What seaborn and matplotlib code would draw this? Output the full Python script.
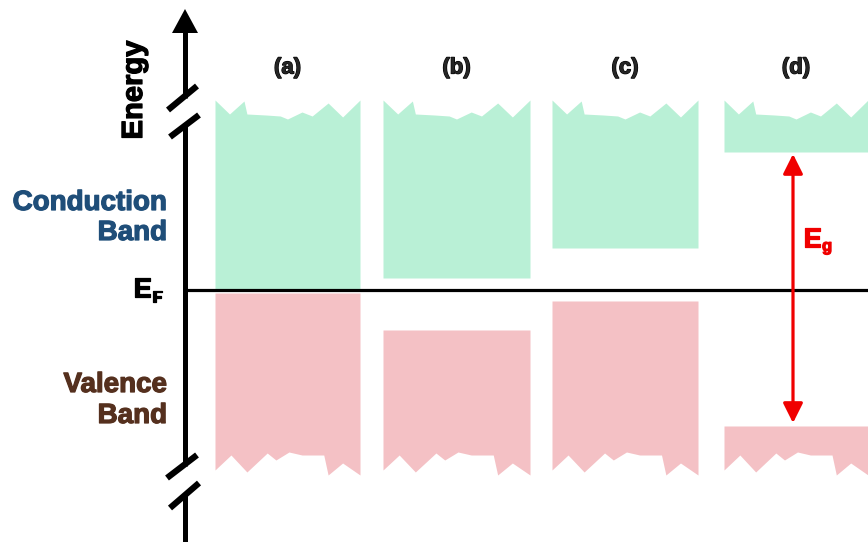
import numpy as np
import pandas as pd
import seaborn as sns
import matplotlib
matplotlib.use("Agg")
import matplotlib.pyplot as plt
import matplotlib.patheffects as pe

# ---- data (energies relative to the Fermi level, 1 unit = 1 px) ----
panels = ["(a)", "(b)", "(c)", "(d)"]
band_left = [215, 383, 552, 724]
band_right = [360, 530, 698, 868]
cb_bottom = [1, 12, 42, 138]      # conduction-band minimum
vb_top = [-3, -40, -11, -136]     # valence-band maximum
cb_top = 190                      # (broken) top of conduction band
vb_bottom = -185                  # (broken) bottom of valence band
fermi_level = 0
# hand-drawn jagged break edges (fraction of band width, depth in units)
top_jag_x = [0.0, 0.10, 0.20, 0.22, 0.35, 0.45, 0.50, 0.60, 0.67, 0.78, 0.88, 1.0]
top_jag_d = [0, 14, 1, 14, 15, 16, 19, 12, 16, 3, 17, 0]
bot_jag_x = [0.0, 0.11, 0.22, 0.36, 0.42, 0.51, 0.60, 0.75, 0.78, 0.88, 1.0]
bot_jag_d = [5, 20, 3, 22, 15, 23, 20, 20, 0, 12, 0]

sns.set_theme(style="white")
plt.rcParams["font.family"] = ["Liberation Sans", "DejaVu Sans"]
plt.rcParams["font.weight"] = "bold"

fig = plt.figure(figsize=(8.68, 5.42), dpi=100)
ax = fig.add_axes([0, 0, 1, 1])
ax.set_xlim(0, 868)
ax.set_ylim(-252, 290)
ax.axis("off")

def E(px):
    return 290 - px

def heavy(color):
    return [pe.withStroke(linewidth=0.9, foreground=color)]

cb_color = "#B9F0D6"
vb_color = "#F4C1C5"
for i in range(len(panels)):
    w = band_right[i] - band_left[i]
    xt = band_left[i] + np.array(top_jag_x) * w
    ax.fill_between(xt, cb_bottom[i], cb_top - np.array(top_jag_d),
                    color=cb_color, lw=0, zorder=1)
    xb = band_left[i] + np.array(bot_jag_x) * w
    ax.fill_between(xb, vb_bottom + np.array(bot_jag_d), vb_top[i],
                    color=vb_color, lw=0, zorder=1)
    ax.text((band_left[i] + band_right[i]) / 2, E(68), panels[i],
            ha="center", va="center", fontsize=16, fontweight="bold",
            path_effects=heavy("black"))

# Fermi level
fermi = pd.DataFrame({"x": [185, 868], "E": [fermi_level, fermi_level]})
sns.lineplot(data=fermi, x="x", y="E", color="black", lw=2.3, ax=ax, zorder=3)

# Energy axis with breaks
lw_ax = 3.6
for y0, y1 in [(30, 98), (126, 466), (495, 545)]:
    ax.plot([185, 185], [E(y0), E(y1)], color="black", lw=lw_ax,
            solid_capstyle="butt", zorder=4)
ax.fill([172, 198, 185], [E(33), E(33), E(9)], color="black", lw=0, zorder=4)
for (x0, y0, x1, y1) in [(168, 110, 197, 86), (170, 137, 199, 115),
                         (167, 478, 197, 455), (170, 508, 199, 483)]:
    ax.plot([x0, x1], [E(y0), E(y1)], color="black", lw=4.5,
            solid_capstyle="butt", zorder=4)

# Band gap arrow for (d)
red = "#F00000"
ax.annotate("", xy=(793, cb_bottom[3] - 2), xytext=(793, vb_top[3] + 3),
            arrowprops=dict(arrowstyle="<|-|>", color=red, lw=2.3,
                            mutation_scale=30, shrinkA=0, shrinkB=0),
            zorder=5)
ax.text(803, E(247), "E", color=red, fontsize=20, fontweight="bold",
        ha="left", va="baseline", path_effects=heavy(red))
ax.text(822, E(251), "g", color=red, fontsize=12, fontweight="bold",
        ha="left", va="baseline", path_effects=heavy(red))

# Labels
blue = "#1F4E79"
brown = "#55301E"
ax.text(134, E(90), "Energy", rotation=90, ha="center", va="center",
        fontsize=21, fontweight="bold", color="black",
        path_effects=heavy("black"))
ax.text(167, E(210), "Conduction", ha="right", va="baseline",
        fontsize=20, fontweight="bold", color=blue, path_effects=heavy(blue))
ax.text(167, E(240), "Band", ha="right", va="baseline",
        fontsize=20, fontweight="bold", color=blue, path_effects=heavy(blue))
ax.text(167, E(392), "Valence", ha="right", va="baseline",
        fontsize=20, fontweight="bold", color=brown, path_effects=heavy(brown))
ax.text(167, E(423), "Band", ha="right", va="baseline",
        fontsize=20, fontweight="bold", color=brown, path_effects=heavy(brown))
ax.text(133, E(297), "E", ha="left", va="baseline",
        fontsize=20, fontweight="bold", color="black",
        path_effects=heavy("black"))
ax.text(152, E(302), "F", ha="left", va="baseline",
        fontsize=12, fontweight="bold", color="black",
        path_effects=heavy("black"))

fig.savefig("out.png", dpi=100)
